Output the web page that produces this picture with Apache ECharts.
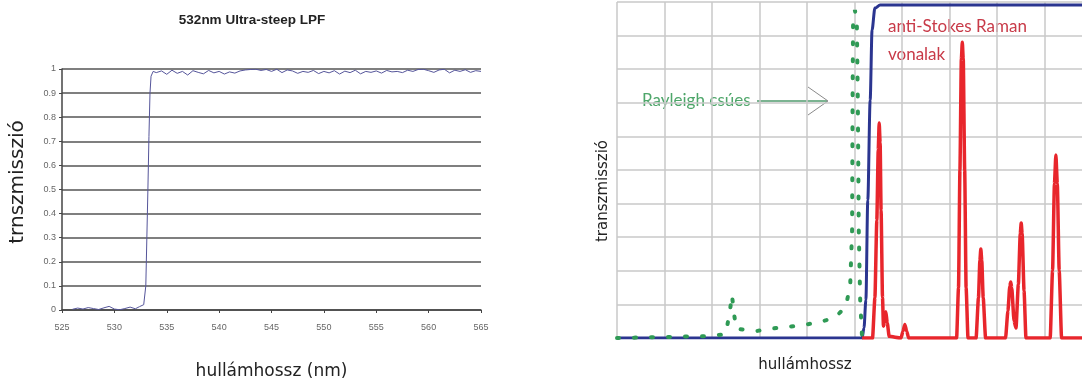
<!DOCTYPE html>
<html>
<head>
<meta charset="utf-8">
<script src="https://cdn.jsdelivr.net/npm/echarts@6/dist/echarts.min.js"></script>
<style>
  html, body { margin: 0; padding: 0; background: #fff; }
  #chart { width: 1082px; height: 381px; }
</style>
</head>
<body>
<div id="chart"></div>
<script>
// left panel: 532nm LPF measured transmission
const lpfWavelength = [526, 526.5, 527, 527.5, 528, 528.5, 529, 529.5, 530, 530.5, 531, 531.5, 532, 532.4, 532.8,
  533.0, 533.1, 533.2, 533.3, 533.4, 533.5, 533.7,
  534, 534.5, 535, 535.5, 536, 536.5, 537, 537.5, 538, 538.5, 539, 539.5, 540, 540.5, 541, 541.5, 542, 542.5,
  543, 543.5, 544, 544.5, 545, 545.5, 546, 546.5, 547, 547.5, 548, 548.5, 549, 549.5, 550, 550.5, 551, 551.5,
  552, 552.5, 553, 553.5, 554, 554.5, 555, 555.5, 556, 556.5, 557, 557.5, 558, 558.5, 559, 559.5, 560, 560.5,
  561, 561.5, 562, 562.5, 563, 563.5, 564, 564.5, 565]
const lpfTransmission = [0.003, 0.008, 0.004, 0.01, 0.006, 0.002, 0.009, 0.015, 0.004, 0.001, 0.006, 0.012, 0.005, 0.014, 0.022,
  0.1, 0.3, 0.5, 0.72, 0.9, 0.97, 0.99,
  0.985, 0.992, 0.978, 0.995, 0.982, 0.99, 0.975, 0.993, 0.986, 0.98, 0.994, 0.984, 0.99, 0.979, 0.988, 0.983, 0.992, 0.996,
  0.998, 0.999, 0.994, 0.998, 0.99, 0.999, 0.985, 0.996, 0.992, 0.982, 0.99, 0.986, 0.994, 0.981, 0.99, 0.984, 0.993, 0.979,
  0.991, 0.985, 0.995, 0.98, 0.99, 0.986, 0.992, 0.983, 0.994, 0.988, 0.99, 0.985, 0.995, 0.99, 0.998, 0.999, 0.993, 0.986,
  0.996, 0.999, 0.984, 0.995, 0.99, 0.997, 0.986, 0.993, 0.99]
const lpfTicksX = [525, 530, 535, 540, 545, 550, 555, 560, 565]

// right panel: schematic (grid units, picture is cut off on the right)
const schemeXMax = 9.79
const filterX = [0, 5.16, 5.2, 5.24, 5.28, 5.33, 5.37, 5.43, 5.54, 9.79]
const filterY = [0, 0, 0.3, 1.13, 4.1, 7.08, 9.17, 9.82, 9.91, 9.91]

const rayleighX = [0, 2.02, 2.29, 2.38, 2.42, 2.46, 2.51, 2.95, 3.37, 3.79, 4.19, 4.59, 4.82, 4.91, 4.95, 4.96, 4.97, 5.01, 5.05, 5.07, 5.09, 5.12, 5.16]
const rayleighY = [0, 0.06, 0.12, 0.83, 1.28, 0.77, 0.27, 0.21, 0.3, 0.36, 0.45, 0.6, 0.95, 1.58, 3.21, 7.08, 9.32, 9.76, 9.32, 7.08, 3.21, 1.13, 0]

const ramanX = [5.16, 5.38, 5.43, 5.47, 5.5, 5.52, 5.54, 5.56, 5.59, 5.61, 5.63, 5.66, 5.69, 5.73,
  5.98, 6.02, 6.06, 6.1, 6.14,
  7.15, 7.19, 7.22, 7.25, 7.27, 7.29, 7.32, 7.35, 7.39,
  7.56, 7.61, 7.64, 7.66, 7.68, 7.71, 7.76,
  8.18, 8.23, 8.27, 8.29, 8.31, 8.36, 8.4, 8.45, 8.49, 8.51, 8.53, 8.57, 8.61,
  9.12, 9.17, 9.21, 9.24, 9.27, 9.31, 9.36, 9.79]
const ramanY = [0, 0, 1.2, 3.5, 5.6, 6.4, 5.8, 3.8, 1.2, 0.35, 0.45, 0.78, 0.45, 0.05,
  0, 0.2, 0.4, 0.2, 0,
  0, 1.5, 5.0, 8.3, 8.8, 8.3, 5.0, 1.5, 0,
  0, 1.2, 2.3, 2.65, 2.3, 1.2, 0,
  0, 0.8, 1.55, 1.67, 1.5, 0.5, 0.3, 1.6, 3.1, 3.42, 3.1, 1.4, 0,
  0, 2.0, 4.6, 5.45, 4.6, 2.0, 0, 0]

function zip(xs, ys) {
  return xs.map((x, i) => [x, ys[i]])
}

let myChart = echarts.init(document.getElementById('chart'))
let option = {
  animation: false,
  backgroundColor: '#fff',
  grid: [
    { left: 62, top: 69, width: 419, height: 241, outerBoundsMode: 'none' },
    { left: 617, top: 2, width: 465, height: 336, outerBoundsMode: 'none' }
  ],
  xAxis: [{
    gridIndex: 0, type: 'value', min: 525, max: 565, interval: 5,
    name: 'hullámhossz (nm)', nameLocation: 'middle', nameGap: 53,
    nameTextStyle: { fontFamily: 'DejaVu Sans', fontSize: 17, color: '#222' },
    axisLine: { lineStyle: { color: '#444', width: 1.5 } },
    axisTick: { length: 3, lineStyle: { color: '#444' } },
    axisLabel: { color: '#666', fontSize: 9, margin: 13, fontFamily: 'Liberation Sans',
      formatter: v => lpfTicksX.indexOf(v) >= 0 ? String(v) : '' },
    splitLine: { show: false }
  }, {
    gridIndex: 1, type: 'value', min: 0, max: schemeXMax, interval: 1,
    axisLine: { show: false },
    axisTick: { show: false }, axisLabel: { show: false },
    splitLine: { show: true, showMaxLine: false, lineStyle: { color: '#c8c8c8', width: 1.5 } }
  }],
  yAxis: [{
    gridIndex: 0, type: 'value', min: 0, max: 1, interval: 0.1,
    axisLine: { show: true, lineStyle: { color: '#444', width: 1.5 } },
    axisTick: { show: true, length: 3, lineStyle: { color: '#444' } },
    axisLabel: { color: '#666', fontSize: 9, margin: 6, fontFamily: 'Liberation Sans',
      formatter: v => String(Math.round(v * 10) / 10) },
    splitLine: { show: true, lineStyle: { color: '#555', width: 1.5 } }
  }, {
    gridIndex: 1, type: 'value', min: 0, max: 10, interval: 1,
    axisLine: { show: false },
    axisTick: { show: false }, axisLabel: { show: false },
    splitLine: { show: true, lineStyle: { color: '#c8c8c8', width: 1.5 } }
  }],
  series: [{
    type: 'line', xAxisIndex: 0, yAxisIndex: 0, showSymbol: false,
    data: zip(lpfWavelength, lpfTransmission),
    lineStyle: { color: '#55559a', width: 1 }
  }, {
    type: 'line', xAxisIndex: 1, yAxisIndex: 1, showSymbol: false, smooth: 0.3, smoothMonotone: 'x',
    data: zip(filterX, filterY),
    lineStyle: { color: '#2b3590', width: 3 }
  }, {
    type: 'line', xAxisIndex: 1, yAxisIndex: 1, showSymbol: false, smooth: 0.2, smoothMonotone: 'x',
    data: zip(ramanX, ramanY),
    lineStyle: { color: '#e8262c', width: 3.5 }
  }, {
    type: 'line', xAxisIndex: 1, yAxisIndex: 1, showSymbol: false,
    data: zip(rayleighX, rayleighY),
    lineStyle: { color: '#2f9a55', width: 4, type: [2, 15], cap: 'round' }
  }],
  graphic: [
    { type: 'text', x: 252, y: 20,
      style: { text: '532nm Ultra-steep LPF', font: 'bold 13.5px "Liberation Sans"', fill: '#222', align: 'center', verticalAlign: 'middle' } },
    { type: 'text', x: 18, y: 182, rotation: Math.PI / 2,
      style: { text: 'trnszmisszió', font: '20px "DejaVu Sans"', fill: '#222', align: 'center', verticalAlign: 'middle' } },
    { type: 'text', x: 603, y: 191, rotation: Math.PI / 2,
      style: { text: 'transzmisszió', font: '15px "DejaVu Sans"', fill: '#222', align: 'center', verticalAlign: 'middle' } },
    { type: 'text', x: 805, y: 365,
      style: { text: 'hullámhossz', font: '15px "DejaVu Sans"', fill: '#222', align: 'center', verticalAlign: 'middle' } },
    { type: 'text', x: 642, y: 101,
      style: { text: 'Rayleigh csúes', font: '17px Lato', fill: '#4ea66a', verticalAlign: 'middle' } },
    { type: 'line', shape: { x1: 757, y1: 101, x2: 827, y2: 101 }, style: { stroke: '#4f9a6c', lineWidth: 1.5 } },
    { type: 'polyline', shape: { points: [[808, 87], [828, 101], [808, 115]] }, style: { stroke: '#8a8a8a', lineWidth: 1, fill: null } },
    { type: 'text', x: 888, y: 27,
      style: { text: 'anti-Stokes Raman', font: '17px Lato', fill: '#c83a48', verticalAlign: 'middle' } },
    { type: 'text', x: 888, y: 55,
      style: { text: 'vonalak', font: '17px Lato', fill: '#c83a48', verticalAlign: 'middle' } }
  ]
}
myChart.setOption(option)
window.addEventListener('resize', function() {
  myChart.resize()
})
</script>
</body>
</html>
